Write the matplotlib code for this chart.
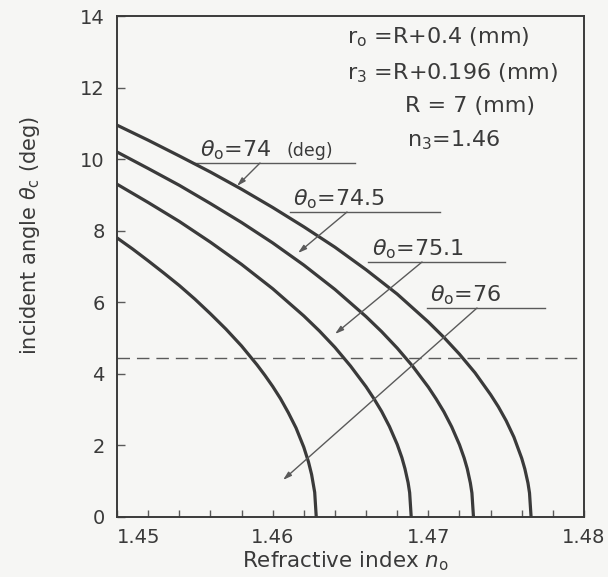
import numpy as np
import matplotlib
matplotlib.use("Agg")
import matplotlib.pyplot as plt
from matplotlib.ticker import FixedLocator, FuncFormatter

# theta_c (deg) against core index n0, one curve per launch angle theta_0
n0_74 = [1.450, 1.452, 1.454, 1.456, 1.458, 1.460, 1.462, 1.464, 1.466, 1.468, 1.470,
         1.471, 1.472, 1.473, 1.474, 1.4745, 1.475, 1.4755, 1.476, 1.4762, 1.4764,
         1.4765, 1.4766]
tc_74 = [10.95, 10.53, 10.09, 9.64, 9.16, 8.65, 8.11, 7.54, 6.91, 6.23, 5.45,
         5.02, 4.55, 4.03, 3.42, 3.08, 2.69, 2.23, 1.64, 1.34, 0.95,
         0.67, 0.0]

n0_745 = [1.450, 1.452, 1.454, 1.456, 1.458, 1.460, 1.462, 1.464, 1.466, 1.467,
          1.468, 1.469, 1.470, 1.4705, 1.471, 1.4715, 1.472, 1.4723, 1.4725,
          1.4727, 1.4728, 1.4729]
tc_745 = [10.2, 9.74, 9.27, 8.76, 8.23, 7.66, 7.04, 6.36, 5.60, 5.18,
          4.72, 4.21, 3.63, 3.30, 2.94, 2.52, 2.02, 1.65, 1.35,
          0.95, 0.67, 0.0]

n0_751 = [1.450, 1.452, 1.454, 1.456, 1.458, 1.460, 1.462, 1.463, 1.464, 1.465,
          1.466, 1.4665, 1.467, 1.4675, 1.468, 1.4683, 1.4685, 1.4687, 1.4688, 1.4689]
tc_751 = [9.3, 8.79, 8.26, 7.68, 7.06, 6.38, 5.62, 5.20, 4.74, 4.22,
          3.64, 3.31, 2.95, 2.53, 2.03, 1.66, 1.35, 0.96, 0.68, 0.0]

n0_76 = [1.450, 1.451, 1.452, 1.453, 1.454, 1.455, 1.456, 1.457, 1.458, 1.459,
         1.4595, 1.460, 1.4605, 1.461, 1.4615, 1.462, 1.4623, 1.4625, 1.4627, 1.4628]
tc_76 = [7.8, 7.49, 7.16, 6.82, 6.47, 6.09, 5.68, 5.25, 4.78, 4.25,
         3.96, 3.65, 3.31, 2.92, 2.49, 1.95, 1.54, 1.19, 0.69, 0.0]

theta0_labels = ["74", "74.5", "75.1", "76"]
ref_angle = 4.45

x_ticks = [1.45, 1.46, 1.47, 1.48]
y_ticks = [0, 2, 4, 6, 8, 10, 12, 14]

ink = "#3a3a3a"
thin = "#5a5a5a"
bg = "#f6f6f4"

plt.rcParams["font.family"] = ["DejaVu Sans"]
plt.rcParams["mathtext.fontset"] = "dejavusans"

fig = plt.figure(figsize=(6.08, 5.77), dpi=100, facecolor=bg)
ax = fig.add_axes([117 / 608, 1 - 517 / 577, 467 / 608, 501 / 577], facecolor=bg)

for xs, ys in [(n0_74, tc_74), (n0_745, tc_745), (n0_751, tc_751), (n0_76, tc_76)]:
    ax.plot(xs, ys, color=ink, lw=2.3, solid_capstyle="butt",
            solid_joinstyle="round", zorder=3)

ax.axhline(ref_angle, color=thin, lw=1.0, dashes=(9, 5), zorder=2)

ax.set_xlim(1.45, 1.48)
ax.set_ylim(0, 14)

# bottom ticks every 0.002, labelled every 0.01
xt = np.round(np.arange(1.450, 1.4801, 0.002), 3)
ax.xaxis.set_major_locator(FixedLocator(xt))
def xfmt(v, pos):
    for t in x_ticks:
        if abs(v - t) < 1e-6:
            return f"{t:.2f}"
    return ""
ax.xaxis.set_major_formatter(FuncFormatter(xfmt))
ax.yaxis.set_major_locator(FixedLocator(y_ticks))
ax.tick_params(axis="x", direction="in", length=5, width=1, color=thin,
               labelsize=14, labelcolor=ink, pad=8)
ax.tick_params(axis="y", direction="in", length=6, width=1, color=thin,
               labelsize=14, labelcolor=ink, pad=9)
for lab in ax.get_xticklabels():
    if lab.get_text() == "1.45":
        lab.set_ha("left")

for s in ax.spines.values():
    s.set_color(ink)
    s.set_linewidth(1.4)

fig.text(345 / 608, 1 - 567 / 577, r"Refractive index $n_{\rm o}$", ha="center",
         va="baseline", fontsize=15.5, color=ink)
fig.text(30 / 608, 1 - 236 / 577, r"incident angle $\theta_{\rm c}$ (deg)",
         rotation=90, ha="center", va="center", fontsize=15, color=ink)

# parameter block
params = [
    (347, 37, r"r$_{\rm o}$ =R+0.4 (mm)"),
    (347, 73, r"r$_3$ =R+0.196 (mm)"),
    (405, 106, r"R = 7 (mm)"),
    (407, 140, r"n$_3$=1.46"),
]
for px, py, s in params:
    fig.text(px / 608, 1 - py / 577, s, ha="left", va="center", fontsize=16, color=ink)

# labels with underline and leader arrow: text pos, underline span, leader start/end (pixels)
def px2d(px, py):
    return 1.45 + (px - 117) / 467 * 0.03, (517 - py) / (501 / 14)

labels = [
    ((200, 156), (193, 355, 163), (260, 163), (237, 186)),
    ((293, 205), (290, 440, 212), (347, 212), (298, 253)),
    ((372, 255), (368, 505, 262), (422, 262), (335, 334)),
    ((430, 301), (427, 545, 308), (477, 308), (283, 480)),
]
for lab, ((tx, ty), (u0, u1, uy), (ls_x, ls_y), (le_x, le_y)) in zip(theta0_labels, labels):
    x, y = px2d(tx, ty)
    ax.text(x, y, r"$\theta_{\rm o}$=" + lab, fontsize=16, color=ink,
            ha="left", va="baseline", zorder=4)
    if lab == "74":
        x2, _ = px2d(286, ty)
        ax.text(x2, y, "(deg)", fontsize=12.5, color=ink, ha="left", va="baseline", zorder=4)
    a, yy = px2d(u0, uy)
    b, _ = px2d(u1, uy)
    ax.plot([a, b], [yy, yy], color=thin, lw=1.0, zorder=2)
    sx, sy = px2d(ls_x, ls_y)
    ex, ey = px2d(le_x, le_y)
    ax.annotate("", xy=(ex, ey), xytext=(sx, sy),
                arrowprops=dict(arrowstyle="-|>,head_length=0.5,head_width=0.15",
                                color=thin, lw=1.0, shrinkA=0, shrinkB=0), zorder=4)

fig.savefig("out.png", dpi=100, facecolor=bg)
